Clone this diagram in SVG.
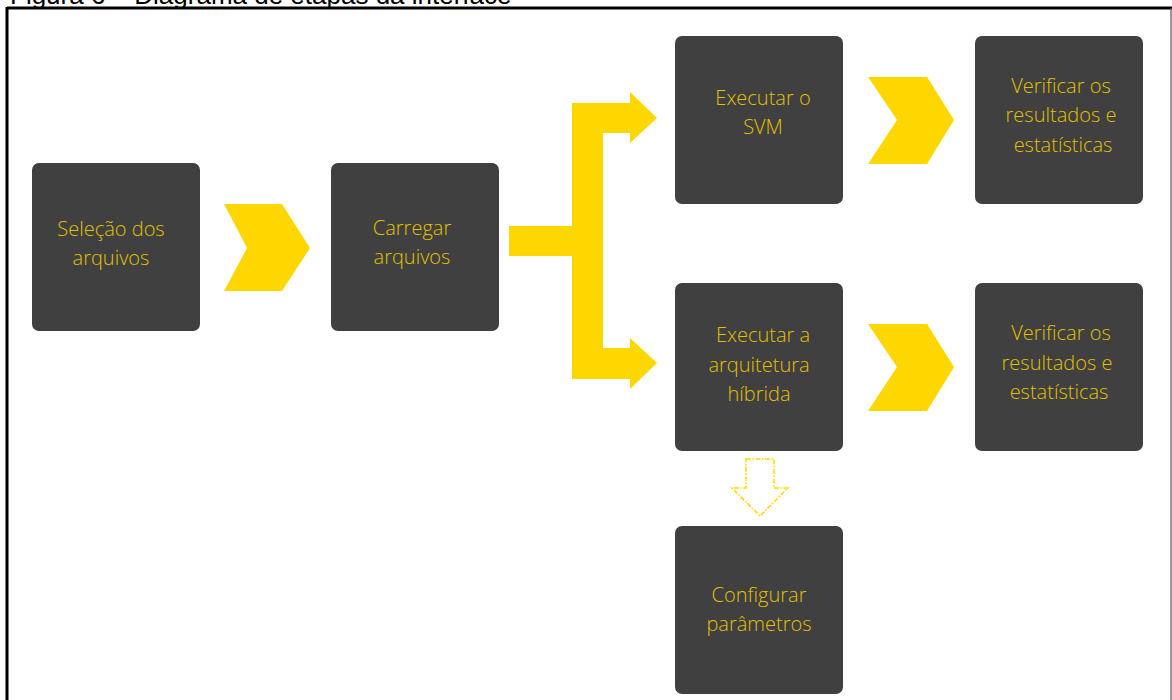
<svg xmlns="http://www.w3.org/2000/svg" width="1172" height="700" viewBox="0 0 1172 700">
  <style>
    .box { fill: #404040; }
    .lbl { font-family: "Open Sans", "Segoe UI", "Liberation Sans", sans-serif; font-weight: 300; font-size: 20px; fill: #E3C000; text-anchor: middle; }
    .flow { fill: #FFD700; }
    .cap { font-family: "Liberation Sans", Arial, sans-serif; font-size: 26px; fill: #000; }
  </style>
  <rect width="1172" height="700" fill="#ffffff"/>

  <!-- caption above the frame (runs off the top edge) -->
  <text class="cap" x="10" y="3.5">Figura 6 – Diagrama de etapas da interface</text>

  <!-- frame -->
  <g id="frame" fill="none">
    <line x1="7" y1="8" x2="1172" y2="8" stroke="#000" stroke-width="3"/>
    <line x1="7" y1="7" x2="7" y2="700" stroke="#000" stroke-width="3"/>
    <line x1="1171" y1="8" x2="1171" y2="700" stroke="#555" stroke-width="1.2"/>
  </g>

  <!-- connectors -->
  <g id="connectors">
    <polygon class="flow" points="224,204 282,204 310,248 282,291 224,291 247,248"/>
    <path class="flow" d="M509,226 H572 V103 H630 V92 L657,118 L630,143 V133 H603 V348 H630 V338 L657,363 L630,389 V379 H572 V256 H509 Z"/>
    <polygon class="flow" points="868,77 927,77 954,120 927,164 868,164 897,120"/>
    <polygon class="flow" points="868,324 927,324 954,367 927,411 868,411 897,367"/>
    <polygon points="746,459 774,459 774,488 788,488 760,516 732,488 746,488" fill="none" stroke="#FFD700" stroke-width="1.5" stroke-dasharray="5,1.5,1.5,1.5"/>
  </g>

  <g id="selecao">
    <rect class="box" x="32" y="163" width="168" height="168" rx="7"/>
    <text class="lbl" x="111" y="236">Seleção dos</text>
    <text class="lbl" x="111" y="265">arquivos</text>
  </g>

  <g id="carregar">
    <rect class="box" x="331" y="163" width="168" height="168" rx="7"/>
    <text class="lbl" x="412" y="235">Carregar</text>
    <text class="lbl" x="412" y="264">arquivos</text>
  </g>

  <g id="svm">
    <rect class="box" x="675" y="36" width="168" height="168" rx="7"/>
    <text class="lbl" x="763" y="105">Executar o</text>
    <text class="lbl" x="763" y="134">SVM</text>
  </g>

  <g id="resultados-svm">
    <rect class="box" x="975" y="36" width="168" height="168" rx="7"/>
    <text class="lbl" x="1061" y="93">Verificar os</text>
    <text class="lbl" x="1061" y="122">resultados e</text>
    <text class="lbl" x="1063" y="152">estatísticas</text>
  </g>

  <g id="hibrida">
    <rect class="box" x="675" y="283" width="168" height="168" rx="7"/>
    <text class="lbl" x="763" y="342">Executar a</text>
    <text class="lbl" x="759" y="372">arquitetura</text>
    <text class="lbl" x="759" y="401">híbrida</text>
  </g>

  <g id="resultados-hibrida">
    <rect class="box" x="975" y="283" width="168" height="168" rx="7"/>
    <text class="lbl" x="1061" y="340">Verificar os</text>
    <text class="lbl" x="1057" y="370">resultados e</text>
    <text class="lbl" x="1059" y="399">estatísticas</text>
  </g>

  <g id="parametros">
    <rect class="box" x="675" y="526" width="168" height="168" rx="7"/>
    <text class="lbl" x="759" y="602">Configurar</text>
    <text class="lbl" x="759" y="631">parâmetros</text>
  </g>
</svg>
